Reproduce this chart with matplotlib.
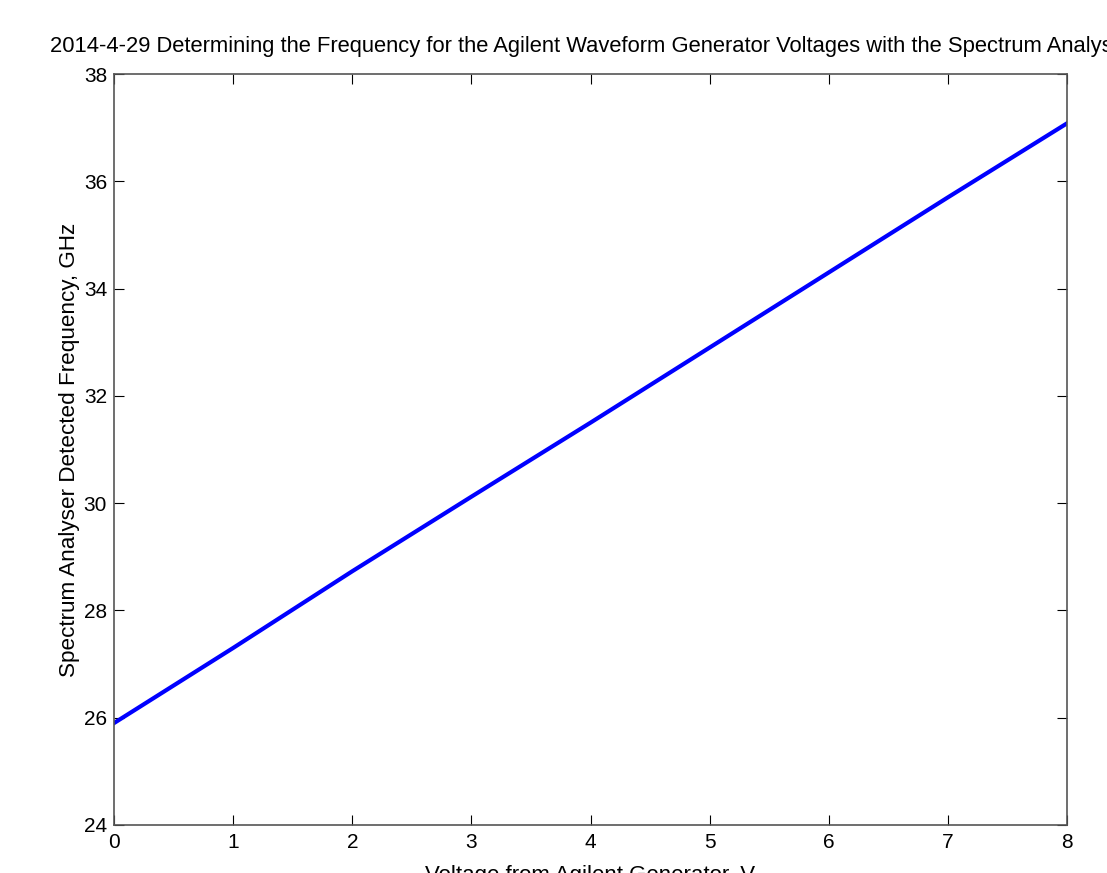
import numpy as np
import matplotlib
matplotlib.use('Agg')
import matplotlib.pyplot as plt

# Voltage from the Agilent generator and the frequency seen on the spectrum analyser
voltage = [0, 1, 2, 3, 4, 5, 6, 7, 8]
freq_ghz = [25.9, 27.3, 28.73, 30.12, 31.5, 32.9, 34.3, 35.7, 37.08]

x_ticks = [0, 1, 2, 3, 4, 5, 6, 7, 8]
y_ticks = [24, 26, 28, 30, 32, 34, 36, 38]

plt.rcParams['font.family'] = ['Liberation Sans', 'DejaVu Sans']
plt.rcParams['font.size'] = 15

fig = plt.figure(figsize=(11.07, 8.73), dpi=100)
ax = fig.add_axes([114 / 1107, 48 / 873, (1067 - 114) / 1107, (825 - 74) / 873])

ax.plot(voltage, freq_ghz, color='#0000ff', linewidth=3)

ax.set_xlim(0, 8)
ax.set_ylim(24, 38)
ax.set_xticks(x_ticks)
ax.set_yticks(y_ticks)
ax.tick_params(direction='in', length=7, width=0.8, top=True, right=True,
               colors='black', labelcolor='black')
ax.tick_params(axis='x', pad=6)
ax.tick_params(axis='y', pad=5)
for sp in ax.spines.values():
    sp.set_color('#555555')
    sp.set_linewidth(1.2)

ax.set_title('2014-4-29 Determining the Frequency for the Agilent Waveform Generator '
             'Voltages with the Spectrum Analyser', fontsize=15.8, pad=16)
ax.set_xlabel('Voltage from Agilent Generator, V', fontsize=16, labelpad=9)
ax.set_ylabel('Spectrum Analyser Detected Frequency, GHz', fontsize=16.2, labelpad=3)

fig.savefig('out.png', dpi=100)
